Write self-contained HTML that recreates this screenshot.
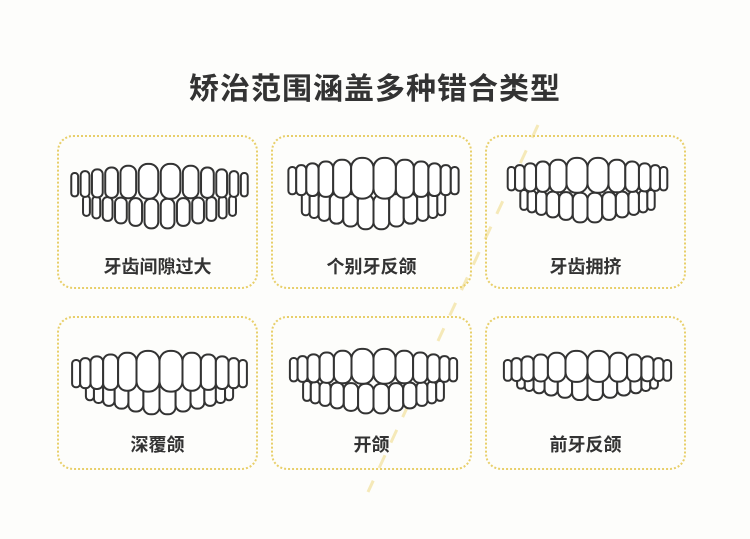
<!DOCTYPE html>
<html><head><meta charset="utf-8"><style>
body{margin:0;width:750px;height:539px;background:#fdfdfb;position:relative;overflow:hidden;font-family:"Liberation Sans","Noto Sans CJK SC",sans-serif}
h1{position:absolute;top:64px;left:0;width:750px;text-align:center;margin:0;font-size:30px;font-weight:bold;color:#333;letter-spacing:1px}
.c{position:absolute;width:201px;height:154px;border:2px dotted #e8cf6a;border-radius:16px;box-sizing:border-box}
.c span{position:absolute;left:0;right:0;text-align:center;font-size:18px;font-weight:bold;color:#333}
.c svg{position:absolute;left:0;top:0}
#diag{position:absolute;left:0;top:0}
</style></head><body>
<svg id="diag" width="750" height="539"><line x1="538" y1="125" x2="368" y2="492" stroke="#f5e9b8" stroke-width="3" stroke-dasharray="14 14"/></svg>
<h1>矫治范围涵盖多种错合类型</h1>
<div class="c" style="left:57px;top:135px"><span style="top:116px">牙齿间隙过大</span></div>
<div class="c" style="left:271px;top:135px"><span style="top:116px">个别牙反颌</span></div>
<div class="c" style="left:485px;top:135px"><span style="top:116px">牙齿拥挤</span></div>
<div class="c" style="left:57px;top:316px"><span style="top:113px">深覆颌</span></div>
<div class="c" style="left:271px;top:316px"><span style="top:113px">开颌</span></div>
<div class="c" style="left:485px;top:316px"><span style="top:113px">前牙反颌</span></div>
<script>
const cfg=[
 {x:57,y:135,top:26,h:36,lt:62,gap:2.5,s:0.98},
 {x:271,y:135,top:20,h:42,lt:58,gap:0,s:1.12},
 {x:485,y:135,top:20,h:36,lt:56,gap:0,s:1.05},
 {x:57,y:316,top:32,h:42,lt:62,gap:0,s:1.15},
 {x:271,y:316,top:30,h:36,lt:66,gap:0,s:1.1},
 {x:485,y:316,top:32,h:32,lt:56,gap:0,s:1.1}
];
const W=[7,9,11,13,16,20,20,16,13,11,9,7];
cfg.forEach(c=>{
 let s='<svg width="201" height="154" xmlns="http://www.w3.org/2000/svg" fill="#fff" stroke="#333" stroke-width="2">';
 const LW=[7,8,10,12,13,14,14,13,12,10,8,7];
 const t2=LW.reduce((a,b)=>a+b*c.s,0)+c.gap*11;
 let x=(201-t2)/2;
 let lower='';
 LW.forEach((w,i)=>{
  w*=c.s;
  const d=Math.abs(i-5.5)/5.5;
  const h=(c.h*0.85)*(1-0.35*d), y=c.lt-d*3;
  lower+=`<rect x="${x}" y="${y}" width="${w}" height="${h}" rx="${w/2.2}" />`;
  x+=w+c.gap;
 });
 const total=W.reduce((a,b)=>a+b*c.s,0)+c.gap*11;
 x=(201-total)/2;
 let upper='';
 W.forEach((w,i)=>{
  w*=c.s;
  const d=Math.abs(i-5.5)/5.5;
  const h=c.h*(1-0.35*d), y=c.top+d*10;
  upper+=`<rect x="${x}" y="${y}" width="${w}" height="${h}" rx="${w/2.2}" />`;
  x+=w+c.gap;
 });
 s+=lower+upper+'</svg>';
 const el=[...document.querySelectorAll('.c')].find(e=>parseInt(e.style.left)==c.x&&parseInt(e.style.top)==c.y);
 el.insertAdjacentHTML('afterbegin',s);
});
</script>
</body></html>
